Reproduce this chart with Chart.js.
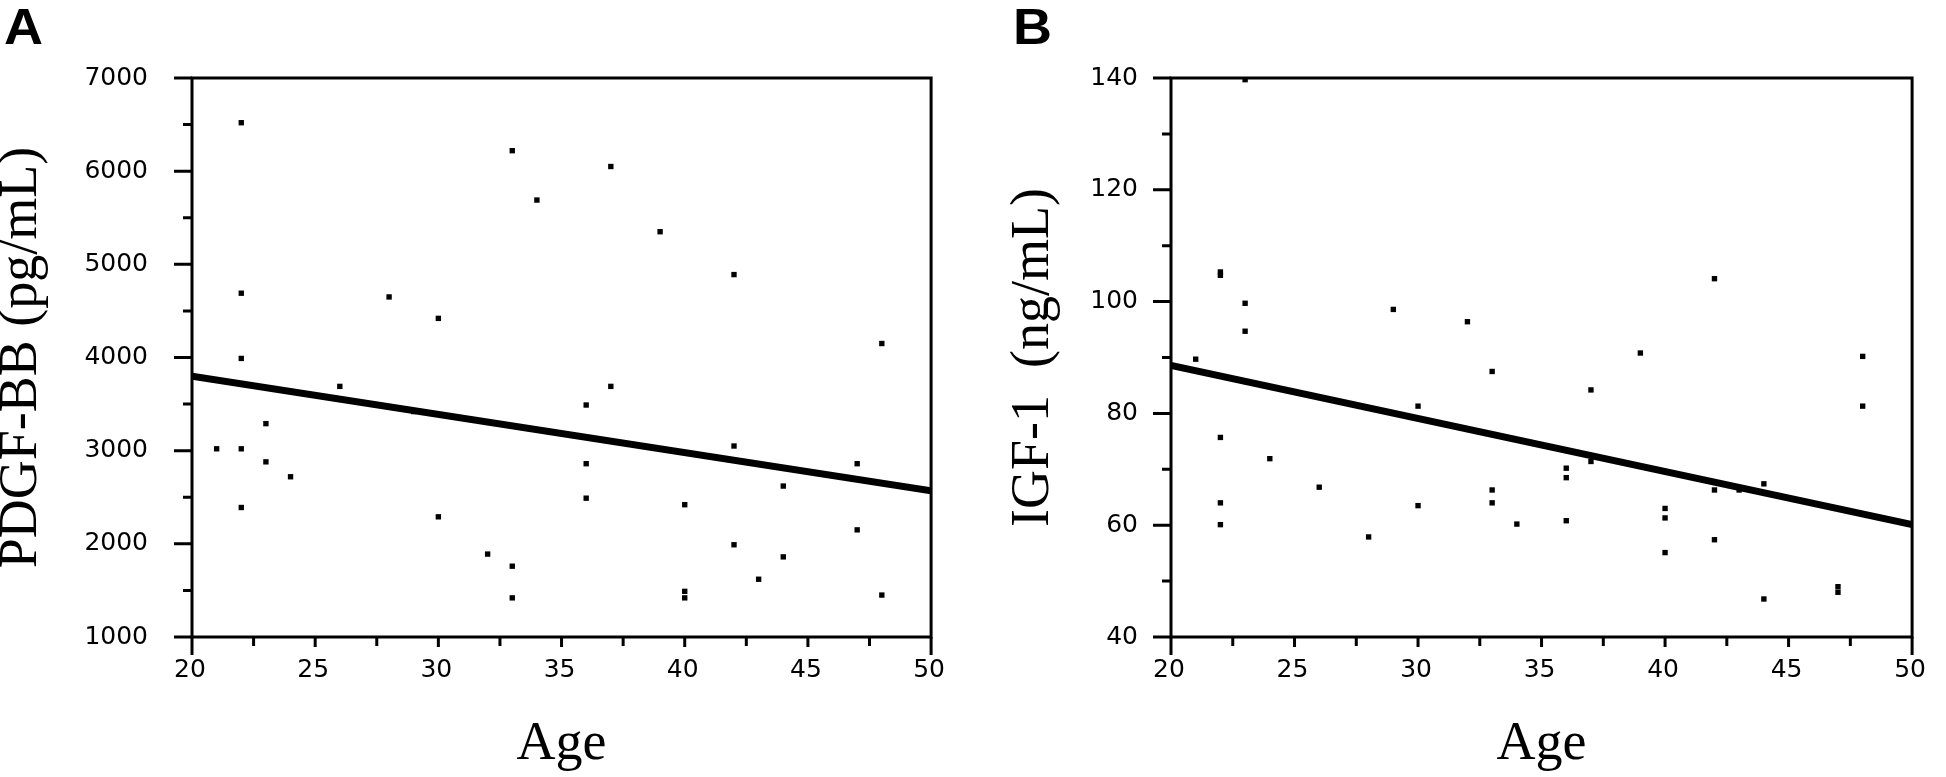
<!DOCTYPE html>
<html>
<head>
<meta charset="utf-8">
<script src="https://cdn.jsdelivr.net/npm/chart.js@4.4.1/dist/chart.umd.min.js"></script>
<style>
  html, body { margin: 0; padding: 0; background: #fff; }
  body { width: 1946px; height: 777px; position: relative; overflow: hidden; }
  .panel { position: absolute; top: 0; height: 777px; }
  #panelA { left: 0; width: 965px; }
  #panelB { left: 965px; width: 981px; }
  .tag { position: absolute; top: 2px; font: bold 50px "Liberation Sans", Arial, sans-serif; line-height: 50px; color: #000;
         transform: scaleX(1.08); transform-origin: left top; }
</style>
</head>
<body>
<div class="panel" id="panelA"><canvas id="pdgfChart"></canvas></div>
<div class="panel" id="panelB"><canvas id="igfChart"></canvas></div>
<div class="tag" style="left:4px">A</div>
<div class="tag" style="left:1013px">B</div>
<script>
// ===== Data =====
const ageTicks = [20, 25, 30, 35, 40, 45, 50];

// A - PDGF-BB
const pdgfAge = [21, 22, 22, 22, 22, 22, 23, 23, 24, 26, 28, 29, 30, 30, 32, 33, 33, 33, 34,
  36, 36, 36, 37, 37, 39, 40, 40, 40, 42, 42, 42, 43, 44, 44, 47, 47, 48, 48];
const pdgfValue = [3020, 6520, 4690, 3990, 3020, 2390, 3290, 2880, 2720, 3690, 4650, 3420, 4420, 2290, 1890, 6220, 1760, 1420, 5690,
  3490, 2860, 2490, 6050, 3690, 5350, 2420, 1490, 1420, 4890, 3050, 1990, 1620, 2620, 1860, 2860, 2150, 4150, 1450];
const pdgfFitAge = [20, 50];
const pdgfFitValue = [3800, 2570];
const pdgfTicks = [1000, 2000, 3000, 4000, 5000, 6000, 7000];

// B - IGF-1
const igfAge = [21, 22, 22, 22, 22, 22, 23, 23, 23, 24, 26, 28, 29, 30, 30, 32, 33, 33, 33, 34,
  36, 36, 36, 37, 37, 39, 40, 40, 40, 42, 42, 42, 43, 44, 44, 47, 47, 48, 48];
const igfValue = [89.7, 105.3, 104.7, 75.7, 64.0, 60.1, 139.7, 99.7, 94.7, 71.9, 66.8, 57.9, 98.6, 81.3, 63.5, 96.4, 87.5, 66.3, 64.0, 60.2,
  70.2, 68.5, 60.8, 84.2, 71.4, 90.8, 63.0, 61.3, 55.1, 104.1, 66.3, 57.4, 66.3, 67.4, 46.8, 49.0, 48.0, 90.2, 81.3];
const igfFitAge = [20, 50];
const igfFitValue = [88.6, 60.1];
const igfTicks = [40, 60, 80, 100, 120, 140];

// ===== Frame + tick marks (drawn from the scales) =====
const framePlugin = {
  id: 'frame',
  afterDatasetsDraw(chart) {
    const { ctx, chartArea: a, scales: { x, y } } = chart;
    ctx.save();
    ctx.strokeStyle = '#000';
    ctx.lineWidth = 3;
    ctx.strokeRect(a.left, a.top, a.right - a.left, a.bottom - a.top);
    ctx.beginPath();
    y.ticks.forEach((t, i) => {
      const py = y.getPixelForValue(t.value);
      ctx.moveTo(a.left - 18, py);
      ctx.lineTo(a.left, py);
      if (i > 0) {
        const my = y.getPixelForValue((t.value + y.ticks[i - 1].value) / 2);
        ctx.moveTo(a.left - 9, my);
        ctx.lineTo(a.left, my);
      }
    });
    x.ticks.forEach((t, i) => {
      const px = x.getPixelForValue(t.value);
      const len = (i === 0 || i === x.ticks.length - 1) ? 18 : 10;
      ctx.moveTo(px, a.bottom);
      ctx.lineTo(px, a.bottom + len);
      if (i > 0) {
        const mx = x.getPixelForValue((t.value + x.ticks[i - 1].value) / 2);
        ctx.moveTo(mx, a.bottom);
        ctx.lineTo(mx, a.bottom + 9);
      }
    });
    ctx.stroke();
    ctx.restore();
  }
};

function makeChart(canvasId, ages, values, fitAges, fitValues, yTicks, yTitle, yAxisWidth, yLabelPad, yTitlePad, rightPad) {
  const ctx = document.getElementById(canvasId).getContext('2d');
  return new Chart(ctx, {
    type: 'scatter',
    data: {
      datasets: [{
        data: fitAges.map((a, i) => ({ x: a, y: fitValues[i] })),
        showLine: true,
        borderColor: '#000',
        borderWidth: 7,
        pointRadius: 0
      }, {
        data: ages.map((a, i) => ({ x: a, y: values[i] })),
        pointStyle: 'rect',
        pointRadius: 3.8,
        pointBorderWidth: 0,
        backgroundColor: '#000'
      }]
    },
    options: {
      responsive: true,
      maintainAspectRatio: false,
      animation: false,
      layout: { padding: { left: 0, top: 78, right: rightPad, bottom: 0 } },
      plugins: { legend: { display: false }, tooltip: { enabled: false } },
      scales: {
        x: {
          type: 'linear',
          min: ageTicks[0],
          max: ageTicks[ageTicks.length - 1],
          afterBuildTicks: s => { s.ticks = ageTicks.map(v => ({ value: v })); },
          afterFit: s => { s.height = 140; },
          grid: { display: false, drawTicks: false },
          border: { display: false },
          ticks: {
            padding: 18,
            labelOffset: -2,
            autoSkip: false,
            maxRotation: 0,
            color: '#000',
            font: { family: 'DejaVu Sans', size: 25 },
            callback: v => String(v)
          },
          title: {
            display: true,
            text: 'Age',
            color: '#000',
            font: { family: 'Liberation Serif', size: 54, lineHeight: 1 },
            padding: { top: 0, bottom: 5 }
          }
        },
        y: {
          type: 'linear',
          min: yTicks[0],
          max: yTicks[yTicks.length - 1],
          afterBuildTicks: s => { s.ticks = yTicks.map(v => ({ value: v })); },
          afterFit: s => { s.width = yAxisWidth; },
          grid: { display: false, drawTicks: false },
          border: { display: false },
          ticks: {
            padding: yLabelPad,
            autoSkip: false,
            color: '#000',
            font: { family: 'DejaVu Sans', size: 25 },
            callback: v => String(v)
          },
          title: {
            display: true,
            text: yTitle,
            color: '#000',
            font: { family: 'Liberation Serif', size: 54, lineHeight: 1 },
            padding: { top: yTitlePad, bottom: 0 }
          }
        }
      }
    },
    plugins: [framePlugin]
  });
}

// ===== Chart A - PDGF-BB =====
makeChart('pdgfChart', pdgfAge, pdgfValue, pdgfFitAge, pdgfFitValue, pdgfTicks,
  'PDGF-BB (pg/mL)', 192, 44, -5, 31);

// ===== Chart B - IGF-1 =====
makeChart('igfChart', igfAge, igfValue, igfFitAge, igfFitValue, igfTicks,
  'IGF-1  (ng/mL)', 206, 33, 42, 17);
</script>
</body>
</html>
